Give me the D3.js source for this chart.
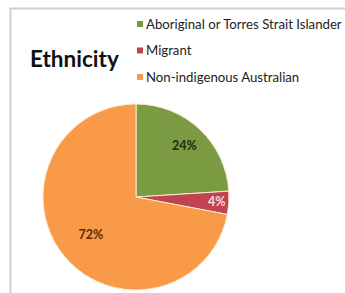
<!DOCTYPE html>
<html>
<head>
<meta charset="utf-8">
<script src="https://cdn.jsdelivr.net/npm/d3@7"></script>
<style>
  body { margin: 0; background: #fff; }
  svg { display: block; }
</style>
</head>
<body>
<script>
(()=>{
    const width = 345;
    const height = 293;

    const categories = ["Aboriginal or Torres Strait Islander", "Migrant", "Non-indigenous Australian"];
    const values = [24, 4, 72];
    const labels = ["24%", "4%", "72%"];
    const colors = ["#7b9b42", "#c0444f", "#f89a48"];
    const labelColors = ["#1f2a0e", "#f6dede", "#5a2a08"];

    const data = categories.map((c, i) => ({name: c, value: values[i], label: labels[i]}));

    const cx = 136, cy = 197, r = 93;

    const svg = d3.create("svg")
        .attr("width", width)
        .attr("height", height)
        .attr("viewBox", [0, 0, width, height]);

    // chart frame
    svg.append("path")
        .attr("d", `M${width + 2},8.5 H10.5 V${height + 2}`)
        .attr("fill", "none")
        .attr("stroke", "#cfcfcf")
        .attr("stroke-width", 2);

    svg.append("text")
        .attr("x", 30)
        .attr("y", 67)
        .attr("font-family", "Lato, 'Open Sans', sans-serif")
        .attr("font-weight", "bold")
        .attr("font-size", 22.5)
        .attr("fill", "#111")
        .text("Ethnicity");

    const color = d3.scaleOrdinal().domain(categories).range(colors);

    const pie = d3.pie().value(d => d.value).sort(null);
    const arc = d3.arc().innerRadius(0).outerRadius(r);

    const g = svg.append("g").attr("transform", `translate(${cx},${cy})`);
    const arcs = pie(data);

    g.selectAll("path")
        .data(arcs)
        .enter()
        .append("path")
        .attr("d", arc)
        .attr("fill", d => color(d.data.name))
        .attr("stroke", "#fbe9d2")
        .attr("stroke-width", 1);

    // label distance from centre, as fraction of radius
    const labelPos = [0.76, 0.87, 0.63];
    g.selectAll("text")
        .data(arcs)
        .enter()
        .append("text")
        .attr("transform", (d, i) => {
            const a = (d.startAngle + d.endAngle) / 2;
            const p = labelPos[i] * r;
            return `translate(${Math.sin(a) * p},${-Math.cos(a) * p})`;
        })
        .attr("text-anchor", "middle")
        .attr("dy", "0.35em")
        .attr("font-family", "Lato, 'Open Sans', sans-serif")
        .attr("font-weight", "bold")
        .attr("font-size", 12.5)
        .attr("fill", (d, i) => labelColors[i])
        .text(d => d.data.label);

    const legend = svg.append("g")
        .selectAll("g")
        .data(categories)
        .enter()
        .append("g")
        .attr("transform", (d, i) => `translate(137,${24 + i * 26.5})`);

    legend.append("rect")
        .attr("x", 0)
        .attr("y", -3)
        .attr("width", 6)
        .attr("height", 6)
        .attr("fill", d => color(d));

    legend.append("text")
        .attr("x", 9)
        .attr("dy", "0.35em")
        .attr("font-family", "Lato, 'Open Sans', sans-serif")
        .attr("font-size", 13.2)
        .attr("fill", "#222")
        .text(d => d);

    d3.select("body").append(() => svg.node());
})()
</script>
</body>
</html>
